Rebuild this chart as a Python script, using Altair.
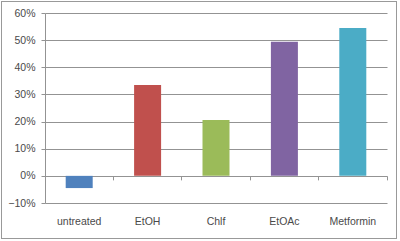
import altair as alt
import pandas as pd

categories = ["untreated", "EtOH", "Chlf", "EtOAc", "Metformin"]
values = [-0.045, 0.335, 0.206, 0.494, 0.545]
colors = ["#4F81BD", "#C0504D", "#9BBB59", "#8064A2", "#4BACC6"]
y_ticks = [-0.1, 0.0, 0.1, 0.2, 0.3, 0.4, 0.5, 0.6]

df = pd.DataFrame({"cat": categories, "val": values})

FONT = "Liberation Sans"
GRID = "#939393"
TEXT = "#4a4a4a"

x_scale = alt.Scale(domain=categories, paddingInner=0, paddingOuter=0)
y_scale = alt.Scale(domain=[-0.1, 0.6], nice=False)
y_axis = alt.Axis(title=None, values=y_ticks, format=".0%", grid=True,
                  gridColor=GRID, domain=True, domainColor=GRID,
                  tickColor=GRID, tickSize=4, labelPadding=6,
                  labelOverlap=False,
                  labelFont=FONT, labelFontSize=10.5, labelColor=TEXT)

bars = alt.Chart(df).mark_bar(size=27).encode(
    x=alt.X("cat:N", scale=x_scale, sort=categories,
            axis=alt.Axis(title=None, labelAngle=0, ticks=False, domain=False,
                          orient="bottom",
                          labelPadding=13, labelFont=FONT, labelFontSize=10.5,
                          labelColor=TEXT)),
    y=alt.Y("val:Q", scale=y_scale, axis=y_axis),
    color=alt.Color("cat:N", scale=alt.Scale(domain=categories, range=colors),
                    legend=None),
)

zero_ticks = alt.Chart(df).mark_bar(opacity=0).encode(
    x=alt.X("cat:N", scale=x_scale, sort=categories,
            axis=alt.Axis(title=None, labels=False, domain=False, ticks=True,
                          orient="bottom",
                          grid=False, tickColor=GRID, tickSize=4,
                          bandPosition=1, tickExtra=True, offset=-27.14)),
    y=alt.Y("val:Q", scale=y_scale, axis=y_axis),
)

frame = alt.Chart(df).mark_rect(fill=None, stroke="#999999", strokeWidth=1,
                                clip=False).encode(
    x=alt.value(-43.5), x2=alt.value(351.5),
    y=alt.value(-11.5), y2=alt.value(225.5),
)

chart = alt.layer(frame, bars, zero_ticks).resolve_axis(x="independent").properties(
    width=342, height=190,
    padding={"left": 45, "top": 13, "right": 13, "bottom": 38},
    autosize="none",
    background="white",
).configure_view(stroke=None)

chart.save("out.html", embed_options={"renderer": "svg", "actions": False})
